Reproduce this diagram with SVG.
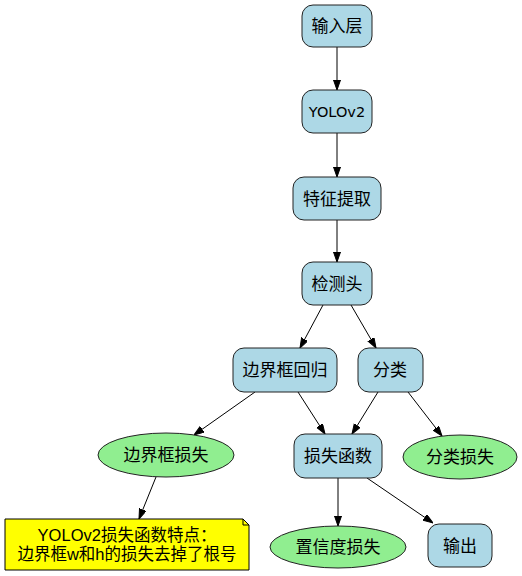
<svg xmlns="http://www.w3.org/2000/svg" width="522" height="576" viewBox="0 0 522 576">
<style>
.box{fill:#add8e6;stroke:#222;stroke-width:1}
.ell{fill:#90ee90;stroke:#222;stroke-width:1}
.note{fill:#ffff00;stroke:#000;stroke-width:1}
text{font-family:"Noto Sans CJK SC","DejaVu Sans",sans-serif;font-size:17px;text-anchor:middle;fill:#000}
.lat{font-family:"DejaVu Sans",sans-serif;font-size:14.5px}
.nt{font-family:"Liberation Sans","Noto Sans CJK SC",sans-serif;font-size:16.5px}
.edge{stroke:#000;stroke-width:1;fill:none;marker-end:url(#arr)}
</style>
<defs>
<marker id="arr" markerUnits="userSpaceOnUse" markerWidth="10" markerHeight="8" refX="10" refY="3.5" orient="auto">
<path d="M0,0 L10,3.5 L0,7 z" fill="#000" stroke="#000" stroke-width="1"/>
</marker>
</defs>
<rect width="522" height="576" fill="#fff"/>
<g id="connectors">
<line class="edge" x1="337" y1="47" x2="337" y2="90"/>
<line class="edge" x1="337" y1="133" x2="337" y2="177"/>
<line class="edge" x1="337" y1="220" x2="337" y2="262"/>
<line class="edge" x1="323" y1="305" x2="300" y2="348"/>
<line class="edge" x1="351" y1="305" x2="376" y2="348"/>
<line class="edge" x1="255" y1="392" x2="194" y2="435"/>
<line class="edge" x1="298" y1="392" x2="325" y2="434"/>
<line class="edge" x1="378" y1="392" x2="352" y2="434"/>
<line class="edge" x1="408" y1="392" x2="442" y2="436"/>
<line class="edge" x1="156" y1="477" x2="139" y2="519"/>
<line class="edge" x1="338" y1="478" x2="338" y2="526"/>
<line class="edge" x1="367" y1="478" x2="433" y2="523"/>
</g>
<g id="n_input"><rect class="box" x="302" y="5" width="70" height="42" rx="11"/><text x="337" y="32">输入层</text></g>
<g id="n_yolo"><rect class="box" x="302" y="90" width="70" height="43" rx="11"/><text class="lat" x="337" y="116.5">YOLOv2</text></g>
<g id="n_feat"><rect class="box" x="293" y="177" width="88" height="43" rx="11"/><text x="337" y="205">特征提取</text></g>
<g id="n_head"><rect class="box" x="302" y="262" width="70" height="43" rx="11"/><text x="337" y="290">检测头</text></g>
<g id="n_bboxreg"><rect class="box" x="233" y="348" width="104" height="44" rx="11"/><text x="285" y="376">边界框回归</text></g>
<g id="n_cls"><rect class="box" x="358" y="348" width="65" height="44" rx="11"/><text x="390" y="376">分类</text></g>
<g id="n_loss"><rect class="box" x="294" y="434" width="88" height="44" rx="11"/><text x="338" y="462">损失函数</text></g>
<g id="n_bboxloss"><ellipse class="ell" cx="166" cy="455" rx="68" ry="22"/><text x="166" y="461">边界框损失</text></g>
<g id="n_clsloss"><ellipse class="ell" cx="460" cy="457" rx="57" ry="22"/><text x="460" y="463">分类损失</text></g>
<g id="n_confloss"><ellipse class="ell" cx="338" cy="547" rx="68" ry="21"/><text x="338" y="553">置信度损失</text></g>
<g id="n_out"><rect class="box" x="428" y="524" width="64" height="43" rx="11"/><text x="460" y="552">输出</text></g>
<g id="n_note">
<path class="note" d="M5,519 L243,519 L249,525 L249,570 L5,570 Z"/>
<path d="M243,519 L243,525 L249,525" fill="none" stroke="#000" stroke-width="1"/>
<text class="nt" x="127" y="541">YOLOv2损失函数特点：</text>
<text class="nt" x="127" y="560">边界框w和h的损失去掉了根号</text>
</g>
</svg>
